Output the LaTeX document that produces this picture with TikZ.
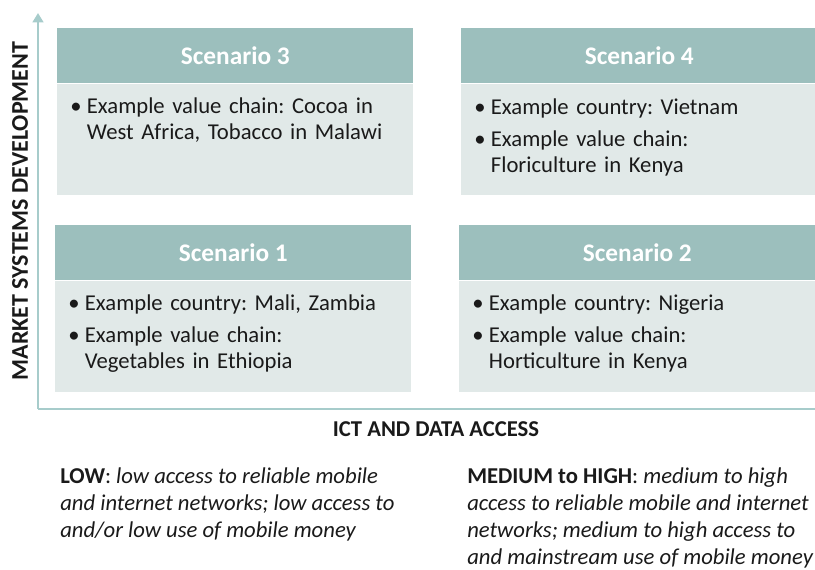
\documentclass[tikz,border=0pt]{standalone}
\usepackage{fontspec}
\setmainfont{Carlito}
\usetikzlibrary{arrows.meta}
\definecolor{hdrcol}{HTML}{9CBFBD}
\definecolor{bodycol}{HTML}{E1E9E8}
\definecolor{axiscol}{HTML}{A7CCCB}
\definecolor{txtcol}{HTML}{1A1A1A}
\newcommand{\bitem}[1]{\hangindent=12.5pt\hangafter=1\noindent\makebox[12.5pt][l]{\textbullet}#1\par}
\tikzset{
  hdr/.style={fill=hdrcol, minimum width=267pt, minimum height=41.25pt, inner sep=0pt, anchor=north west,
    text=white, font=\fontsize{19}{22}\selectfont\bfseries},
  bdy/.style={fill=bodycol, minimum width=267pt, minimum height=83.25pt, inner sep=0pt, anchor=north},
  btxt/.style={anchor=north west, inner sep=0pt, text width=262pt, align=left, text=txtcol,
    font=\fontsize{17}{19.5}\selectfont\frenchspacing\setlength{\parskip}{5pt}},
  axisline/.style={draw=axiscol, line width=2pt},
  axlab/.style={inner sep=0pt, text=txtcol, font=\fontsize{17}{20}\selectfont\bfseries},
  note/.style={anchor=north west, inner sep=0pt, align=left, text=txtcol,
    font=\fontsize{17}{20.25}\selectfont\frenchspacing},
}
\begin{document}
\begin{tikzpicture}[x=0.75pt, y=-0.75pt]
\useasboundingbox (0,0) rectangle (815,570);
% axes
\coordinate (O) at (38,409);
\coordinate (ytop) at (38,13);
\coordinate (xend) at (818,409);
\draw[axisline, -{Triangle[width=8pt,length=7pt]}] (O) -- (ytop);
\draw[axisline] (O) -- (xend);
% scenario 3
\node[hdr] (h3) at (57,28) {Scenario 3};
\node[bdy] (b3) at (h3.south) {};
\node[btxt] (t3) at (70,97) {\bitem{Example value chain: Cocoa in\newline West Africa, Tobacco in Malawi}};
% scenario 4
\node[hdr] (h4) at (461,28) {Scenario 4};
\node[bdy] (b4) at (h4.south) {};
\node[btxt] (t4) at (474,98) {\bitem{Example country: Vietnam}\bitem{Example value chain:\newline Floriculture in Kenya}};
% scenario 1
\node[hdr] (h1) at (55,225) {Scenario 1};
\node[bdy] (b1) at (h1.south) {};
\node[btxt] (t1) at (68,294) {\bitem{Example country: Mali, Zambia}\bitem{Example value chain:\newline Vegetables in Ethiopia}};
% scenario 2
\node[hdr] (h2) at (459,225) {Scenario 2};
\node[bdy] (b2) at (h2.south) {};
\node[btxt] (t2) at (472,294) {\bitem{Example country: Nigeria}\bitem{Example value chain:\newline Horticulture in Kenya}};
% axis labels
\node[axlab, rotate=90, font=\fontsize{18}{20}\selectfont\bfseries] (ylab) at (20,211) {MARKET SYSTEMS DEVELOPMENT};
\node[axlab] (xlab) at (436,429) {ICT AND DATA ACCESS};
% notes
\node[note] (low) at (60,467) {\textbf{LOW}: \textit{low access to reliable mobile}\\
  \textit{and internet networks; low access to}\\
  \textit{and/or low use of mobile money}};
\node[note] (high) at (467,467) {\textbf{MEDIUM to HIGH}: \textit{medium to high}\\
  \textit{access to reliable mobile and internet}\\
  \textit{networks; medium to high access to}\\
  \textit{and mainstream use of mobile money}};
\end{tikzpicture}
\end{document}
